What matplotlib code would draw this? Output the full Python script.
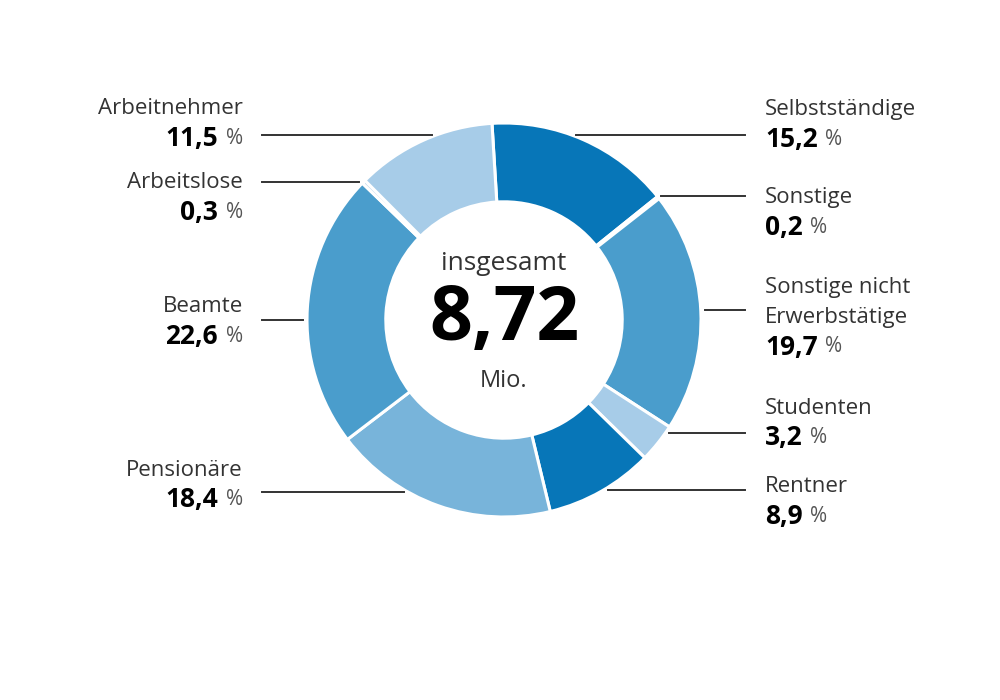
import numpy as np
import matplotlib
matplotlib.use("Agg")
import matplotlib.pyplot as plt

# DATA (clockwise from the top)
labels = ["Selbstständige", "Sonstige", "Sonstige nicht\nErwerbstätige", "Studenten",
          "Rentner", "Pensionäre", "Beamte", "Arbeitslose", "Arbeitnehmer"]
values = [15.2, 0.2, 19.7, 3.2, 8.9, 18.4, 22.6, 0.3, 11.5]
value_text = ["15,2", "0,2", "19,7", "3,2", "8,9", "18,4", "22,6", "0,3", "11,5"]
total_text = "8,72"

# STYLE / LAYOUT
dark, mid, soft, light = "#0776b8", "#4a9dcc", "#78b4da", "#a7cce8"
colors = [dark, dark, mid, light, dark, soft, mid, light, light]
side = ["r", "r", "r", "r", "r", "l", "l", "l", "l"]
line_y = [135, 196, 310, 433, 490, 492, 320, 182, 135]   # leader line heights (px)
name_y = [110, 198, 288, 408, 487, 470, 307, 183, 109]   # first text line (px)

cx, cy, R = 504, 320, 197
font = "Open Sans"

fig = plt.figure(figsize=(10, 7), dpi=100)
ax = fig.add_axes([0, 0, 1, 1])

ax.pie(values, colors=colors, radius=R, center=(cx, cy), startangle=266.5,
       counterclock=True, wedgeprops=dict(width=R * 0.4, edgecolor="white", linewidth=2.2))
ax.set_xlim(0, 1000)
ax.set_ylim(700, 0)
ax.set_aspect("equal")
ax.axis("off")

# centre text
ax.text(cx, 263, "insgesamt", ha="center", va="center", fontsize=19, color="#333333", family=font)
ax.text(cx, 320, total_text, ha="center", va="center", fontsize=54, fontweight="bold",
        color="black", family=font)
ax.text(cx, 381, "Mio.", ha="center", va="center", fontsize=17, color="#333333", family=font)

renderer = fig.canvas.get_renderer()
lh = 29.5
for lab, vt, s, ly, ny in zip(labels, value_text, side, line_y, name_y):
    dx = np.sqrt(max(R ** 2 - (ly - cy) ** 2, 0))
    lines = lab.split("\n")
    vy = ny + lh * len(lines)
    if s == "l":
        tx = 243
        ax.plot([262, cx - dx - 4], [ly, ly], color="#333333", lw=1.4)
        for i, ln in enumerate(lines):
            ax.text(tx, ny + i * lh, ln, ha="right", va="center", fontsize=16,
                    color="#333333", family=font)
        ax.text(tx, vy, "%", ha="right", va="center", fontsize=15, color="#555555", family=font)
        ax.text(tx - 25, vy, vt, ha="right", va="center", fontsize=19, fontweight="bold",
                color="black", family=font)
    else:
        tx = 765
        ax.plot([cx + dx + 4, 745], [ly, ly], color="#333333", lw=1.4)
        for i, ln in enumerate(lines):
            ax.text(tx, ny + i * lh, ln, ha="left", va="center", fontsize=16,
                    color="#333333", family=font)
        t = ax.text(tx, vy, vt, ha="left", va="center", fontsize=19, fontweight="bold",
                    color="black", family=font)
        bb = t.get_window_extent(renderer)
        ax.text(tx + bb.width + 7, vy, "%", ha="left", va="center", fontsize=15,
                color="#555555", family=font)

fig.savefig("out.png", dpi=100, facecolor="white")
